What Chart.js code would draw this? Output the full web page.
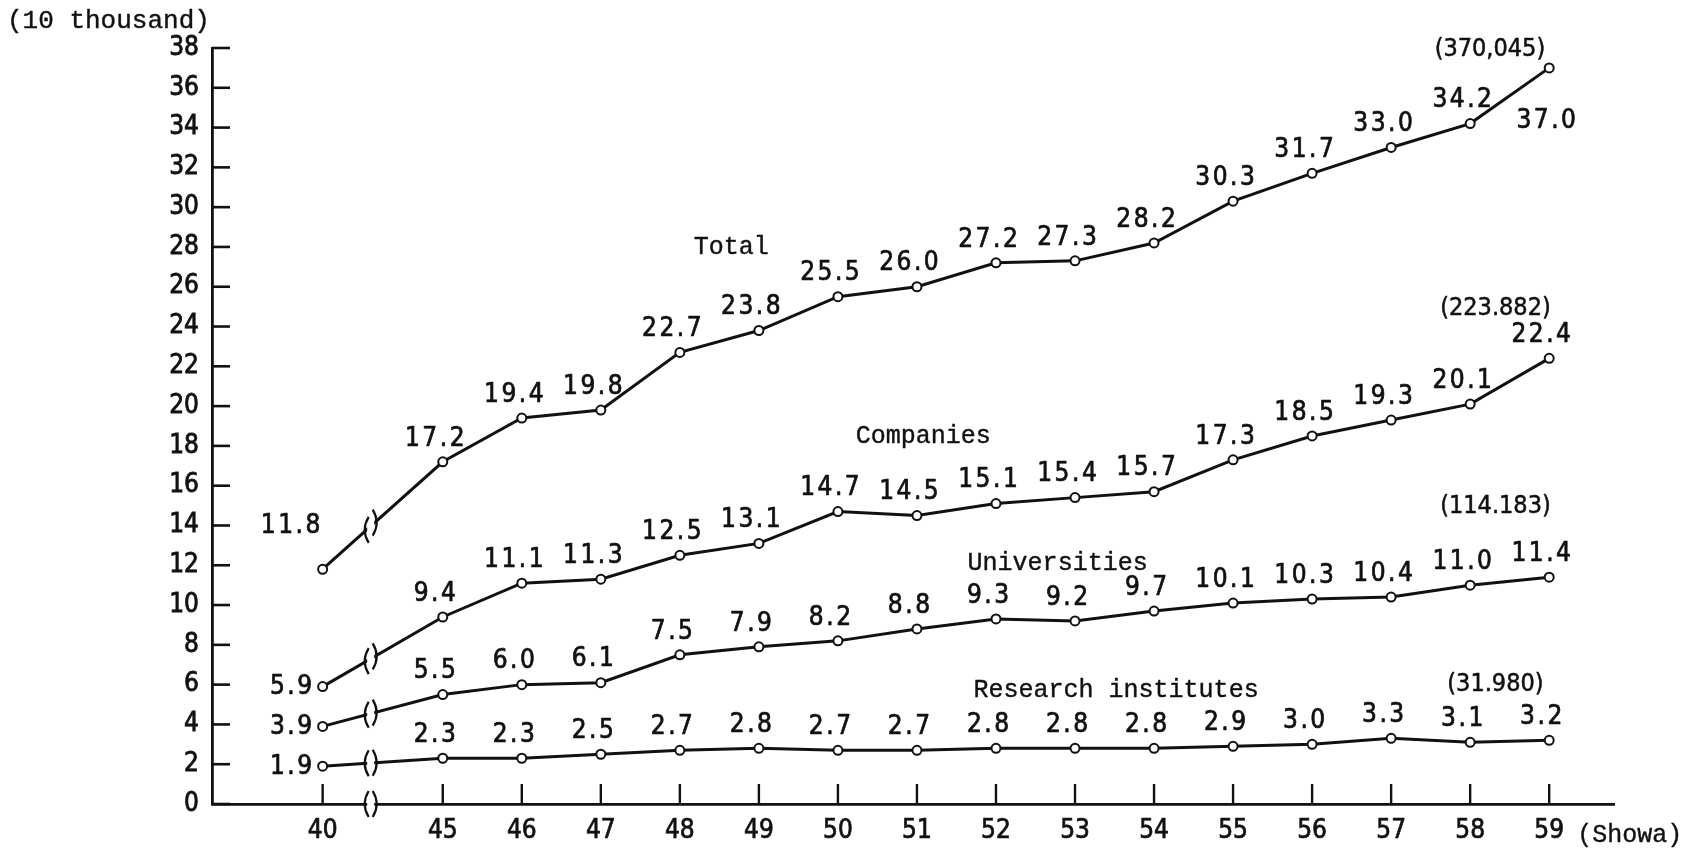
<!DOCTYPE html>
<html><head><meta charset="utf-8">
<script src="https://cdn.jsdelivr.net/npm/chart.js@4.4.1/dist/chart.umd.min.js"></script>
<style>html,body{margin:0;padding:0;background:#fff;}#wrap{width:1687px;height:853px;}</style>
</head><body><div id="wrap"><canvas id="c" width="1687" height="853"></canvas></div>
<script>
// ---- data ----
const years = [40, 45, 46, 47, 48, 49, 50, 51, 52, 53, 54, 55, 56, 57, 58, 59];
const total = [11.8, 17.2, 19.4, 19.8, 22.7, 23.8, 25.5, 26.0, 27.2, 27.3, 28.2, 30.3, 31.7, 33.0, 34.2, 37.0];
const companies = [5.9, 9.4, 11.1, 11.3, 12.5, 13.1, 14.7, 14.5, 15.1, 15.4, 15.7, 17.3, 18.5, 19.3, 20.1, 22.4];
const universities = [3.9, 5.5, 6.0, 6.1, 7.5, 7.9, 8.2, 8.8, 9.3, 9.2, 9.7, 10.1, 10.3, 10.4, 11.0, 11.4];
const research = [1.9, 2.3, 2.3, 2.5, 2.7, 2.8, 2.7, 2.7, 2.8, 2.8, 2.8, 2.9, 3.0, 3.3, 3.1, 3.2];
const seriesNames = ['Total', 'Companies', 'Universities', 'Research institutes'];
const seriesTotals = ['(370,045)', '(223.882)', '(114.183)', '(31.980)'];
const yUnit = '(10 thousand)';
const xUnit = '(Showa)';
const yMin = 0, yMax = 38, yStep = 2;

// ---- layout / style (not data) ----
const INK = '#111';
const BREAK_SPAN = 1.52;           // axis units between 40 and 45 (axis break)
const xPos = yr => yr === years[0] ? years[1] - BREAK_SPAN : yr;
const NUM_FONT = '"DejaVu Sans Condensed", "DejaVu Sans", sans-serif';
const MONO_FONT = '"Liberation Mono", "DejaVu Sans Mono", monospace';
const LABEL_FONT = '26px ' + NUM_FONT;
const LABEL_SPACING = 2.5;
const nameAnchors = [[48.65, 28.0], [51.08, 18.5], [52.78, 12.1], [53.52, 5.7]];
const totalAnchors = [[58.25, 37.9], [58.32, 24.9], [58.32, 14.95], [58.32, 6.0]];

const seriesValues = [total, companies, universities, research];

const inkText = (ctx, t, x, y, w) => {
  ctx.fillText(t, x, y);
  if (w) { ctx.lineWidth = w; ctx.strokeText(t, x, y); }
};

const decoPlugin = {
  id: 'deco',
  afterDraw(chart) {
    const { ctx, chartArea: a, scales: { x, y } } = chart;
    ctx.save();
    ctx.strokeStyle = INK; ctx.fillStyle = INK; ctx.lineCap = 'butt'; ctx.lineJoin = 'round';
    const line = (x1, y1, x2, y2, w) => { ctx.lineWidth = w; ctx.beginPath(); ctx.moveTo(x1, y1); ctx.lineTo(x2, y2); ctx.stroke(); };
    // inward y ticks
    for (let v = yMin; v <= yMax; v += yStep) {
      const py = y.getPixelForValue(v);
      line(a.left, py, a.left + 18, py, 2.6);
    }
    // upward x ticks
    years.forEach(yr => {
      const px = x.getPixelForValue(xPos(yr));
      line(px, a.bottom, px, a.bottom - 20, 2.4);
    });
    // break marks
    const bxVal = xPos(years[0]) + (years[1] - xPos(years[0])) * 0.4;
    const bx = x.getPixelForValue(bxVal);
    const drawBreak = (cx, cy, slope) => {
      const g = 4;
      const yl = cy - g * slope, yr = cy + g * slope;
      ctx.fillStyle = '#fff';
      ctx.fillRect(cx - g + 0.5, Math.min(yl, yr) - 3, 2 * g - 1, Math.abs(yr - yl) + 6);
      ctx.lineWidth = 2.2;
      ctx.beginPath();
      ctx.moveTo(cx - g + 2, yl - 13); ctx.quadraticCurveTo(cx - g - 6, yl, cx - g + 2, yl + 13);
      ctx.moveTo(cx + g - 2, yr - 13); ctx.quadraticCurveTo(cx + g + 6, yr, cx + g - 2, yr + 13);
      ctx.stroke();
      ctx.fillStyle = INK;
    };
    drawBreak(bx, a.bottom, 0);
    chart.data.datasets.forEach((ds, i) => {
      const m = chart.getDatasetMeta(i).data;
      const p0 = m[0], p1 = m[1];
      const slope = (p1.y - p0.y) / (p1.x - p0.x);
      drawBreak(bx, p0.y + slope * (bx - p0.x), slope);
    });
    // data labels
    ctx.font = LABEL_FONT;
    ctx.letterSpacing = LABEL_SPACING + 'px';
    chart.data.datasets.forEach((ds, i) => {
      const m = chart.getDatasetMeta(i).data;
      seriesValues[i].forEach((v, j) => {
        const p = m[j];
        const txt = v.toFixed(1);
        let tx = p.x - 8, ty = p.y - 10, al = 'center', bl = 'bottom';
        if (j === 0) {
          if (i === 0) { tx = p.x - 32; ty = p.y - 30; }
          else { tx = p.x - 8; ty = p.y + 1; al = 'right'; bl = 'middle'; }
        } else if (i === 0 && j === m.length - 1) {
          tx = p.x - 3; ty = p.y + 40; bl = 'top';
        }
        if (al === 'center') tx += LABEL_SPACING / 2;
        ctx.textAlign = al; ctx.textBaseline = bl;
        inkText(ctx, txt, tx, ty, 0.7);
      });
    });
    ctx.letterSpacing = '0px';
    // series names
    ctx.font = '25px ' + MONO_FONT;
    ctx.textAlign = 'center'; ctx.textBaseline = 'middle';
    seriesNames.forEach((n, i) => {
      inkText(ctx, n, x.getPixelForValue(nameAnchors[i][0]), y.getPixelForValue(nameAnchors[i][1]), 0.4);
    });
    // totals
    ctx.font = '25px ' + NUM_FONT;
    seriesTotals.forEach((n, i) => {
      inkText(ctx, n, x.getPixelForValue(totalAnchors[i][0]), y.getPixelForValue(totalAnchors[i][1]), 0.5);
    });
    // units
    ctx.font = '26px ' + MONO_FONT;
    ctx.textAlign = 'left'; ctx.textBaseline = 'middle';
    inkText(ctx, yUnit, 7, 21, 0.4);
    ctx.font = '25px ' + MONO_FONT;
    inkText(ctx, xUnit, x.getPixelForValue(years[years.length - 1]) + 28, a.bottom + 31, 0.4);
    ctx.restore();
  }
};

const mkDs = (label, vals) => ({
  label,
  data: vals.map((v, j) => ({ x: xPos(years[j]), y: v })),
  borderColor: INK, borderWidth: 3, tension: 0,
  pointRadius: 4.5, pointBorderWidth: 2, pointBackgroundColor: '#fff', pointBorderColor: INK,
  fill: false
});

new Chart(document.getElementById('c'), {
  type: 'line',
  data: { datasets: seriesNames.map((n, i) => mkDs(n, seriesValues[i])) },
  options: {
    responsive: false, animation: false, devicePixelRatio: 1,
    layout: { padding: { top: 48, right: 73, bottom: 0, left: 0 } },
    plugins: { legend: { display: false }, tooltip: { enabled: false } },
    scales: {
      x: {
        type: 'linear', min: 42.08, max: 59.82,
        grid: { display: false, drawTicks: false },
        border: { display: true, color: INK, width: 2.8 },
        afterBuildTicks: s => { s.ticks = years.map(yr => ({ value: xPos(yr) })); },
        afterFit: s => { s.height = 49; },
        ticks: {
          autoSkip: false, maxRotation: 0, padding: 12, color: INK,
          textStrokeColor: INK, textStrokeWidth: 0.7,
          font: { family: NUM_FONT, size: 26 },
          callback: (v, i) => String(years[i])
        }
      },
      y: {
        min: yMin, max: yMax,
        grid: { display: false, drawTicks: false },
        border: { display: true, color: INK, width: 2.8 },
        afterFit: s => { s.width = 212; },
        ticks: {
          stepSize: yStep, padding: 13, color: INK,
          textStrokeColor: INK, textStrokeWidth: 0.8,
          font: { family: NUM_FONT, size: 26 }
        }
      }
    }
  },
  plugins: [decoPlugin]
});
</script></body></html>
